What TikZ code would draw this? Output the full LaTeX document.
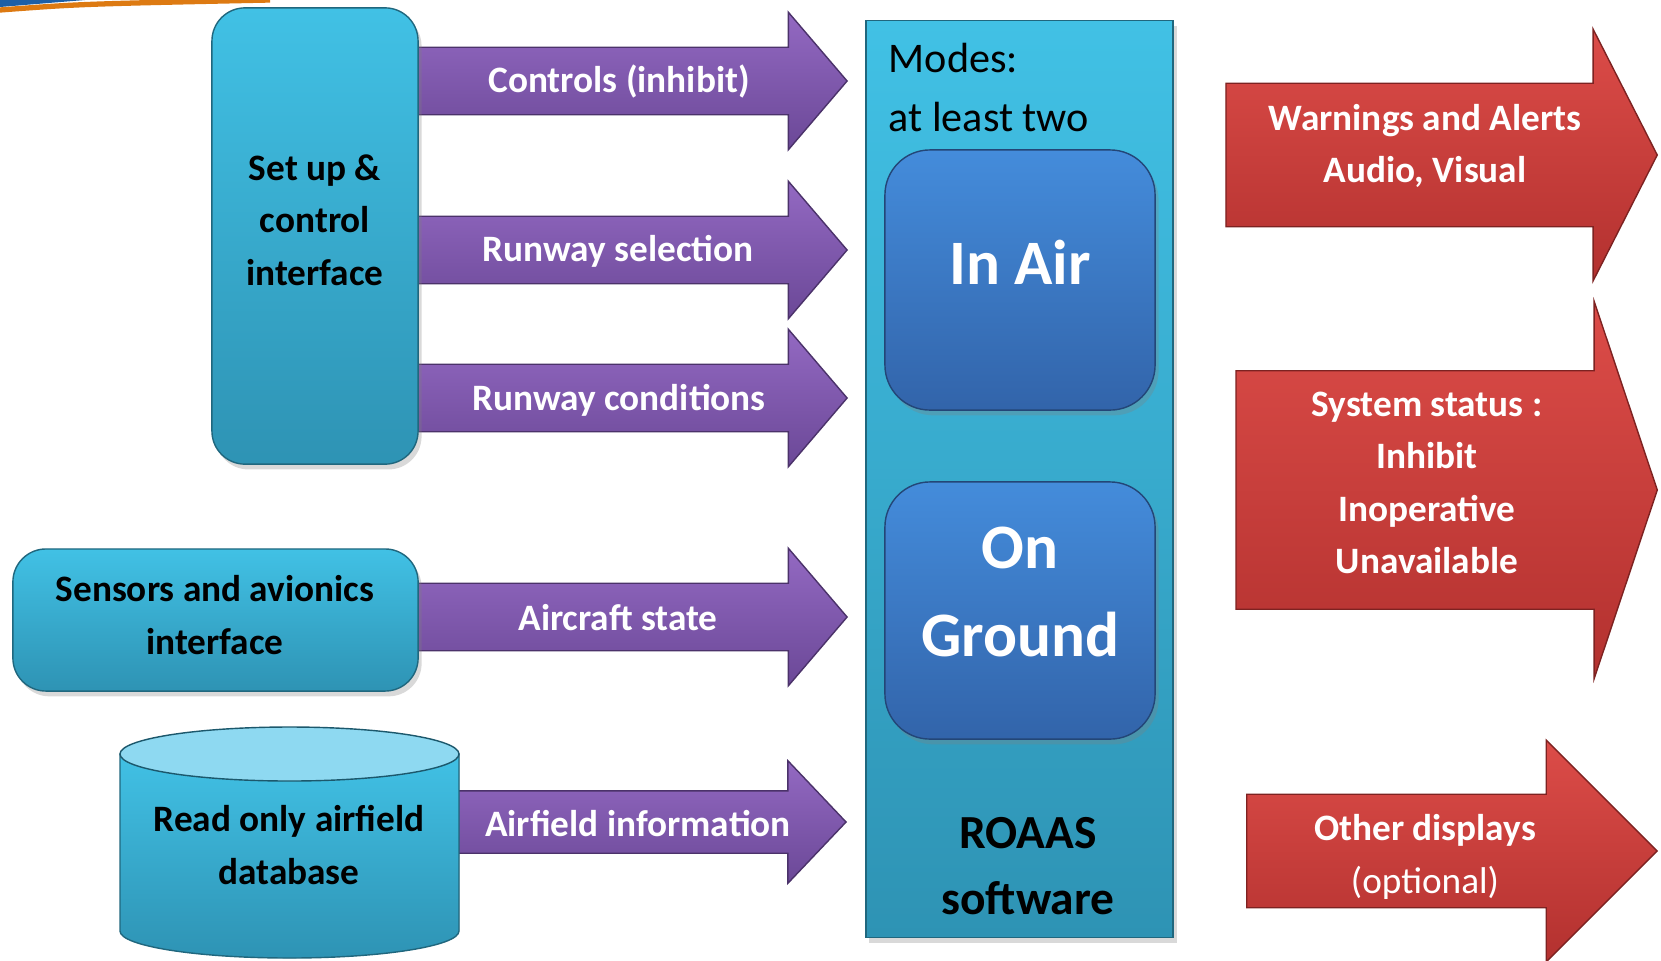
\documentclass[tikz,border=0pt]{standalone}
\usepackage{fontspec}
\setmainfont{Carlito}
\usepackage{xcolor}
\usetikzlibrary{shapes.arrows,shadows}

\definecolor{cyantop}{HTML}{41C1E5}
\definecolor{cyanbot}{HTML}{2E93B4}
\definecolor{bluetop}{HTML}{448CDB}
\definecolor{bluebot}{HTML}{3264AA}
\definecolor{purptop}{HTML}{9369C2}
\definecolor{purpbot}{HTML}{6B4897}
\definecolor{redtop}{HTML}{DC4C48}
\definecolor{redbot}{HTML}{B3312F}
\definecolor{dbtop}{HTML}{8ED9F1}
\definecolor{bandblue}{HTML}{1D5FA6}
\definecolor{bandorange}{HTML}{DD7A12}

\begin{document}
\begin{tikzpicture}[x=0.01cm, y=-0.01cm]
	\tikzstyle{cbox}=[draw=cyanbot!70!black, top color=cyantop, bottom color=cyanbot, rounded corners=0.33cm, inner sep=0pt, drop shadow={shadow xshift=1pt, shadow yshift=-1.5pt, opacity=0.3}]
	\tikzstyle{modebox}=[draw=bluebot!70!black, top color=bluetop, bottom color=bluebot, rounded corners=0.45cm, minimum width=2.70cm, inner sep=0pt, drop shadow={shadow xshift=1pt, shadow yshift=-1.5pt, opacity=0.3}]
	\tikzstyle{parrow}=[single arrow, draw=purpbot!70!black, top color=purptop, bottom color=purpbot, inner xsep=0pt, inner ysep=0.33cm, anchor=tip, minimum height=4.43cm, single arrow head extend=0.35cm, single arrow tip angle=99]
	\tikzstyle{rarrow}=[single arrow, draw=redbot!70!black, top color=redtop, bottom color=redbot, inner xsep=0pt, anchor=tip]
	\tikzstyle{txt}=[font=\fontsize{10.6}{14.9}\selectfont\bfseries, align=center, inner sep=0pt]
	\tikzstyle{wtxt}=[txt, text=white]
	\tikzstyle{bigtxt}=[font=\fontsize{18}{25}\selectfont\bfseries, text=white, align=center, inner sep=0pt]

	\useasboundingbox (0,0) rectangle (1661,960);

	% Corner band
	\fill[bandblue] (0,0) -- (85,0) -- (0,7) -- cycle;
	\draw[bandorange, line width=1.5pt] (0,10) .. controls (80,4) .. (270,0);

	% Inputs
	\node[parrow] (ctl) at (848,81) {};
	\node[parrow] (rwysel) at (848,250) {};
	\node[parrow] (rwycond) at (848,398) {};
	\node[parrow] (acstate) at (848,617) {};
	\node[parrow, minimum height=3.97cm, inner ysep=0.305cm, single arrow head extend=0.30cm, single arrow tip angle=93] (afinfo) at (847,822) {};

	% Outputs
	\node[rarrow, minimum height=4.31cm, inner ysep=0.71cm, single arrow head extend=0.54cm, single arrow tip angle=126] (warn) at (1658,155) {};
	\node[rarrow, minimum height=4.21cm, inner ysep=1.185cm, single arrow head extend=0.695cm, single arrow tip angle=143] (status) at (1658,490) {};
	\node[rarrow, minimum height=4.10cm, inner ysep=0.56cm, single arrow head extend=0.54cm, single arrow tip angle=90] (other) at (1658,851) {};

	% Software
	\node[draw=cyanbot!70!black, top color=cyantop, bottom color=cyanbot, minimum width=3.07cm, minimum height=9.16cm, inner sep=0pt, drop shadow={shadow xshift=1pt, shadow yshift=-1.5pt, opacity=0.3}] (roaas) at (1019.5,479) {};
	\node[modebox, minimum height=2.60cm] (inair) at (1020,280) {};
	\node[modebox, minimum height=2.57cm] (onground) at (1020,610.5) {};

	% Sources
	\node[cbox, minimum width=2.06cm, minimum height=4.56cm] (setup) at (315,236) {};
	\node[cbox, minimum width=4.05cm, minimum height=1.42cm] (sensors) at (215.5,620) {};
	\fill[top color=cyantop, bottom color=cyanbot, draw=cyanbot!70!black] (120,754) -- (120,931) arc[start angle=180, end angle=0, x radius=169.5, y radius=27] -- (459,754) -- cycle;
	\fill[dbtop, draw=cyanbot!60!black] (289.5,754) ellipse[x radius=169.5, y radius=27];

	% Labels
	\node[txt] (setuptxt) at (315,220) {Set up \&\\control\\interface};
	\node[txt] (sensorstxt) at (215,615) {Sensors and avionics\\interface};
	\node[txt] (db) at (289,845) {Read only airfield\\database};
	\node[wtxt] (ctltxt) at (619,81) {Controls (inhibit)};
	\node[wtxt] (rwyseltxt) at (618,251) {Runway selection};
	\node[wtxt] (rwycondtxt) at (619,400) {Runway conditions};
	\node[wtxt] (acstatetxt) at (618,618) {Aircraft state};
	\node[wtxt] (afinfotxt) at (638,824) {Airfield information};
	\node[wtxt] (warntxt) at (1425,146) {Warnings and Alerts\\Audio, Visual};
	\node[wtxt] (statustxt) at (1427,483) {System status :\\Inhibit\\Inoperative\\Unavailable};
	\node[wtxt, font=\fontsize{10.6}{14.9}\selectfont] (othertxt) at (1425,857) {\textbf{Other displays}\\(optional)};
	\node[font=\fontsize{12}{17}\selectfont, anchor=base west, inner sep=0pt] (modestxt) at (888,72) {Modes:};
	\node[font=\fontsize{12}{17}\selectfont, anchor=base west, inner sep=0pt] (twotxt) at (888,131) {at least two};
	\node[bigtxt] (inairtxt) at (1020,262) {In Air};
	\node[bigtxt] (ongroundtxt) at (1020,592) {On\\Ground};
	\node[font=\fontsize{13.5}{19}\selectfont\bfseries, align=center, inner sep=0pt] (roaastxt) at (1028,866) {ROAAS\\software};
\end{tikzpicture}
\end{document}
